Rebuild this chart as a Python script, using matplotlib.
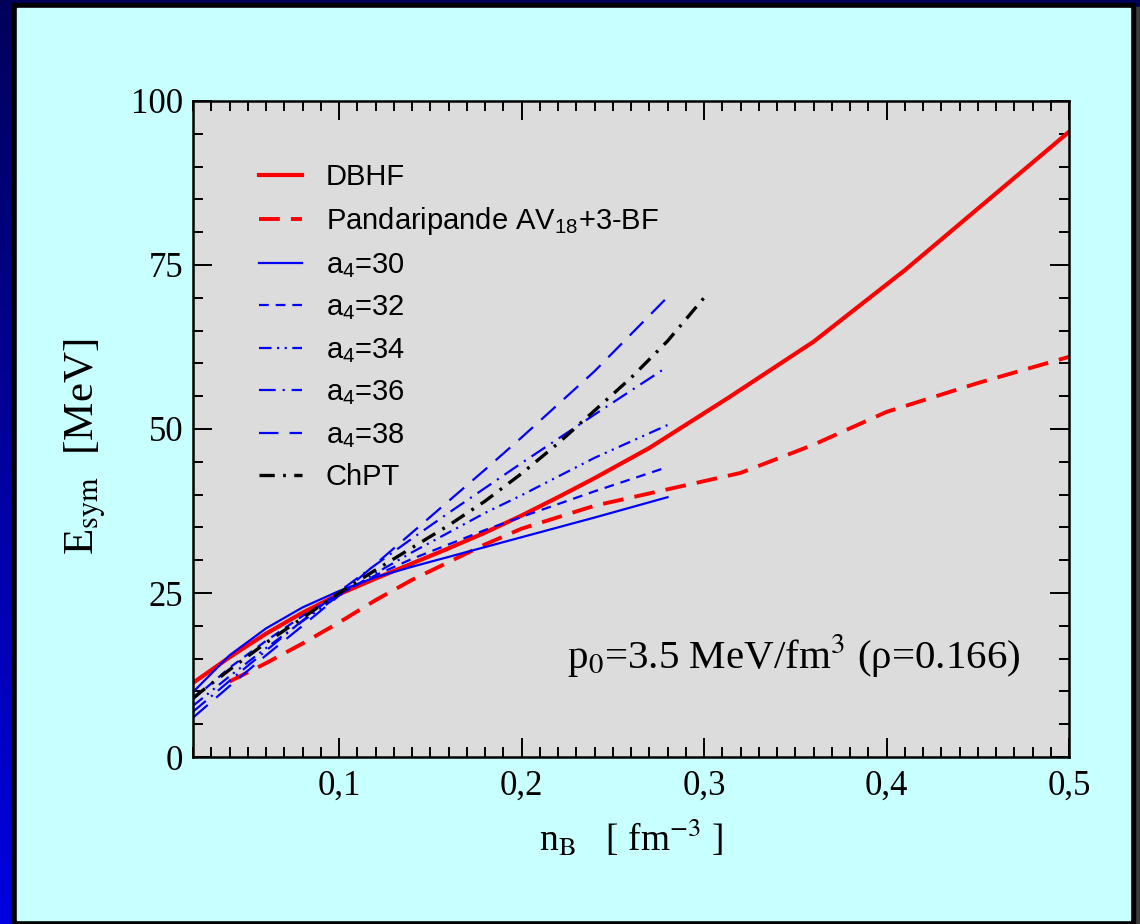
import numpy as np
import matplotlib
matplotlib.use('Agg')
import matplotlib.pyplot as plt
from matplotlib.patches import Rectangle
from matplotlib.ticker import MultipleLocator, FuncFormatter

plt.rcParams['font.family'] = ['Liberation Serif', 'DejaVu Serif']
# legend subscripts use the sans font, axis labels switch to stix per text
plt.rcParams['mathtext.fontset'] = 'custom'
plt.rcParams['mathtext.rm'] = 'Liberation Sans'
plt.rcParams['mathtext.it'] = 'Liberation Sans:italic'
plt.rcParams['mathtext.bf'] = 'Liberation Sans:bold'
plt.rcParams['lines.scale_dashes'] = False

# symmetry energy E_sym [MeV] against baryon density n_B [fm^-3]
N_DBHF = [0.02, 0.04, 0.06, 0.08, 0.10, 0.12, 0.14, 0.16, 0.18, 0.20,
          0.22, 0.24, 0.27, 0.313, 0.36, 0.41, 0.50]
E_DBHF = [11.3, 15.2, 18.8, 22.0, 24.8, 27.2, 29.5, 31.8, 34.2, 36.8,
          39.6, 42.5, 47.1, 54.7, 63.3, 74.2, 95.3]

N_PANDA = [0.04, 0.06, 0.08, 0.10, 0.12, 0.14, 0.16, 0.18, 0.20, 0.24,
           0.28, 0.32, 0.36, 0.40, 0.45, 0.50]
E_PANDA = [11.5, 14.3, 17.3, 20.5, 23.9, 27.0, 29.7, 32.4, 34.8, 38.3,
           40.8, 43.3, 47.6, 52.6, 57.0, 61.0]

N_A4 = [0.02, 0.04, 0.06, 0.08, 0.10, 0.12, 0.14, 0.16, 0.18, 0.20, 0.24, 0.28]
E_A4_30 = [9.9, 15.5, 19.6, 22.8, 25.3, 27.4, 29.0, 30.5, 32.0, 33.5, 36.5, 39.6]
E_A4_32 = [8.8, 13.6, 17.7, 21.5, 24.8, 27.7, 30.2, 32.4, 34.6, 36.6, 40.5, 44.2]
E_A4_34 = [7.8, 12.3, 16.6, 20.7, 24.6, 28.0, 31.2, 34.2, 37.2, 39.9, 45.6, 50.6]
E_A4_36 = [6.9, 11.6, 16.2, 20.8, 25.2, 29.3, 33.3, 37.2, 41.0, 44.8, 52.2, 59.5]
E_A4_38 = [6.0, 10.8, 15.5, 20.0, 24.6, 29.4, 34.2, 39.0, 43.8, 48.7, 58.8, 70.1]

N_CHPT = [0.02, 0.04, 0.06, 0.08, 0.10, 0.12, 0.14, 0.16, 0.18, 0.20,
          0.22, 0.24, 0.26, 0.28, 0.30]
E_CHPT = [9.0, 13.3, 17.4, 21.2, 25.0, 28.5, 31.9, 35.3, 39.0, 43.2,
          47.8, 52.8, 57.8, 63.4, 70.0]

W, H = 1140, 924
fig = plt.figure(figsize=(W / 100, H / 100), dpi=100)

# slide background: blue gradient, drop shadow, black frame, cyan panel
bg = fig.add_axes([0, 0, 1, 1], zorder=-10)
grad = np.linspace(0, 1, 256)[:, None, None]
top = np.array([0.0, 0.0, 0.36])
bottom = np.array([0.0, 0.0, 0.88])
bg.imshow(top + grad * (bottom - top), aspect='auto', extent=[0, W, H, 0])
bg.add_patch(Rectangle((16, 7), W - 16, H - 7, color='#3c3c3c'))
bg.add_patch(Rectangle((12, 3), 1123, 920, color='black'))
bg.add_patch(Rectangle((17, 8), 1113, 912, color='#c8ffff'))
bg.set_xlim(0, W)
bg.set_ylim(H, 0)
bg.axis('off')

ax = fig.add_axes([193 / W, 167 / H, 876 / W, 656 / H])
ax.set_facecolor('#dcdcdc')

ax.plot(N_DBHF, E_DBHF, color='red', lw=3.0, label='DBHF')
ax.plot(N_PANDA, E_PANDA, color='red', lw=2.8, dashes=(15, 8),
        label='Pandaripande AV$_{18}$+3-BF')
ax.plot(N_A4, E_A4_30, color='blue', lw=1.6, label='a$_4$=30')
ax.plot(N_A4, E_A4_32, color='blue', lw=1.6, dashes=(7, 5), label='a$_4$=32')
ax.plot(N_A4, E_A4_34, color='blue', lw=1.6, dashes=(9, 4, 1.5, 4, 1.5, 4),
        label='a$_4$=34')
ax.plot(N_A4, E_A4_36, color='blue', lw=1.6, dashes=(12, 5, 1.5, 5),
        label='a$_4$=36')
ax.plot(N_A4, E_A4_38, color='blue', lw=1.6, dashes=(14, 8), label='a$_4$=38')
ax.plot(N_CHPT, E_CHPT, color='black', lw=2.4, dashes=(11, 6, 2, 6),
        label='ChPT')

ax.set_xlim(0.02, 0.5)
ax.set_ylim(0, 100)
ax.xaxis.set_major_locator(MultipleLocator(0.1))
ax.xaxis.set_minor_locator(MultipleLocator(0.01))
ax.yaxis.set_major_locator(MultipleLocator(25))
ax.yaxis.set_minor_locator(MultipleLocator(5))
ax.xaxis.set_major_formatter(FuncFormatter(lambda v, _: f'{v:.1f}'.replace('.', ',')))
ax.yaxis.set_major_formatter(FuncFormatter(lambda v, _: f'{v:.0f}'))
ax.tick_params(which='both', direction='in', top=True, right=True, width=1.4,
               labelsize=25)
ax.tick_params(which='major', length=14)
ax.tick_params(which='minor', length=7)
ax.tick_params(axis='y', pad=7)
ax.tick_params(axis='x', pad=9)
for s in ax.spines.values():
    s.set_linewidth(1.8)

fig.text(86 / W, 1 - 447 / H, r'E$_{\mathrm{sym}}$  [MeV]', rotation=90,
         ha='center', va='center', fontsize=31, math_fontfamily='stix')
fig.text(631 / W, 1 - 838 / H, r'n$_{\mathrm{B}}$   [ fm$^{-3}$ ]',
         ha='center', va='center', fontsize=27, math_fontfamily='stix')
ax.text(0.225, 13.5, r'p$_0$=3.5 MeV/fm$^3$ (ρ=0.166)', fontsize=29.5,
        ha='left', va='baseline', math_fontfamily='stix')

ax.legend(loc='upper left', bbox_to_anchor=(0.075, 0.905), frameon=False,
          borderaxespad=0, borderpad=0, handlelength=1.5, handletextpad=0.8,
          labelspacing=0.47, prop={'family': 'Liberation Sans', 'size': 21})

fig.savefig('out.png', dpi=100)
